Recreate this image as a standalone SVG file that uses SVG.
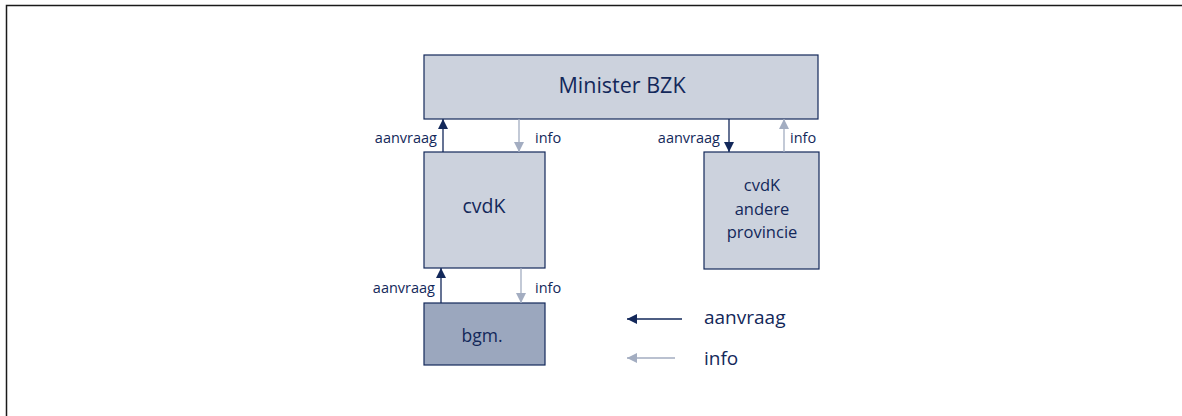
<svg xmlns="http://www.w3.org/2000/svg" width="1182" height="416" viewBox="0 0 1182 416">
<style>
.box{fill:#ccd2dd;stroke:#13285a;stroke-width:1.2}
.dbox{fill:#9ba7be;stroke:#13285a;stroke-width:1.2}
.t{font-family:"Open Sans",Lato,sans-serif;fill:#13285a}
.lab{font-family:"Open Sans",Lato,sans-serif;fill:#13285a;font-size:14.5px}
.a{stroke:#13285a;stroke-width:1.3;fill:none}
.i{stroke:#a3adc1;stroke-width:1.3;fill:none}
</style>
<defs>
<marker id="ma" viewBox="0 0 10 10" refX="10" refY="5" markerWidth="10" markerHeight="10" markerUnits="userSpaceOnUse" orient="auto"><path d="M0,0 L10,5 L0,10 Z" fill="#13285a"/></marker>
<marker id="mi" viewBox="0 0 10 10" refX="10" refY="5" markerWidth="10" markerHeight="10" markerUnits="userSpaceOnUse" orient="auto"><path d="M0,0 L10,5 L0,10 Z" fill="#a3adc1"/></marker>
</defs>
<path d="M6.5,416 V5.5 H1182" fill="none" stroke="#1a1a1a" stroke-width="1.5"/>
<g id="minister"><rect class="box" x="424" y="55" width="394" height="64"/><text class="t" x="622" y="93" font-size="21.5" text-anchor="middle">Minister BZK</text></g>
<g id="cvdk"><rect class="box" x="424" y="152" width="121" height="116"/><text class="t" x="484" y="213" font-size="19.5" text-anchor="middle">cvdK</text></g>
<g id="bgm"><rect class="dbox" x="424" y="303" width="121" height="62"/><text class="t" x="482" y="342" font-size="17.5" text-anchor="middle">bgm.</text></g>
<g id="cvdk-ander"><rect class="box" x="704" y="152" width="115" height="117"/><text class="t" x="762" y="191" font-size="16.5" text-anchor="middle">cvdK</text><text class="t" x="762" y="215" font-size="16.5" text-anchor="middle">andere</text><text class="t" x="762" y="238" font-size="16.5" text-anchor="middle">provincie</text></g>
<g id="connectors">
<line class="a" x1="443" y1="152" x2="443" y2="119" marker-end="url(#ma)"/>
<line class="i" x1="519" y1="119" x2="519" y2="152" marker-end="url(#mi)"/>
<line class="a" x1="729" y1="119" x2="729" y2="152" marker-end="url(#ma)"/>
<line class="i" x1="784" y1="152" x2="784" y2="119" marker-end="url(#mi)"/>
<line class="a" x1="441" y1="303" x2="441" y2="268" marker-end="url(#ma)"/>
<line class="i" x1="521" y1="268" x2="521" y2="303" marker-end="url(#mi)"/>
<text class="lab" x="437" y="143" text-anchor="end">aanvraag</text>
<text class="lab" x="535" y="143">info</text>
<text class="lab" x="720" y="143" text-anchor="end">aanvraag</text>
<text class="lab" x="790" y="143">info</text>
<text class="lab" x="435" y="293" text-anchor="end">aanvraag</text>
<text class="lab" x="535" y="293">info</text>
</g>
<g id="legend">
<line class="a" x1="682" y1="319" x2="627" y2="319" marker-end="url(#ma)"/>
<line class="i" x1="675" y1="358" x2="627" y2="358" marker-end="url(#mi)"/>
<text class="t" x="704" y="324" font-size="19">aanvraag</text>
<text class="t" x="704" y="365" font-size="19">info</text>
</g>
</svg>
